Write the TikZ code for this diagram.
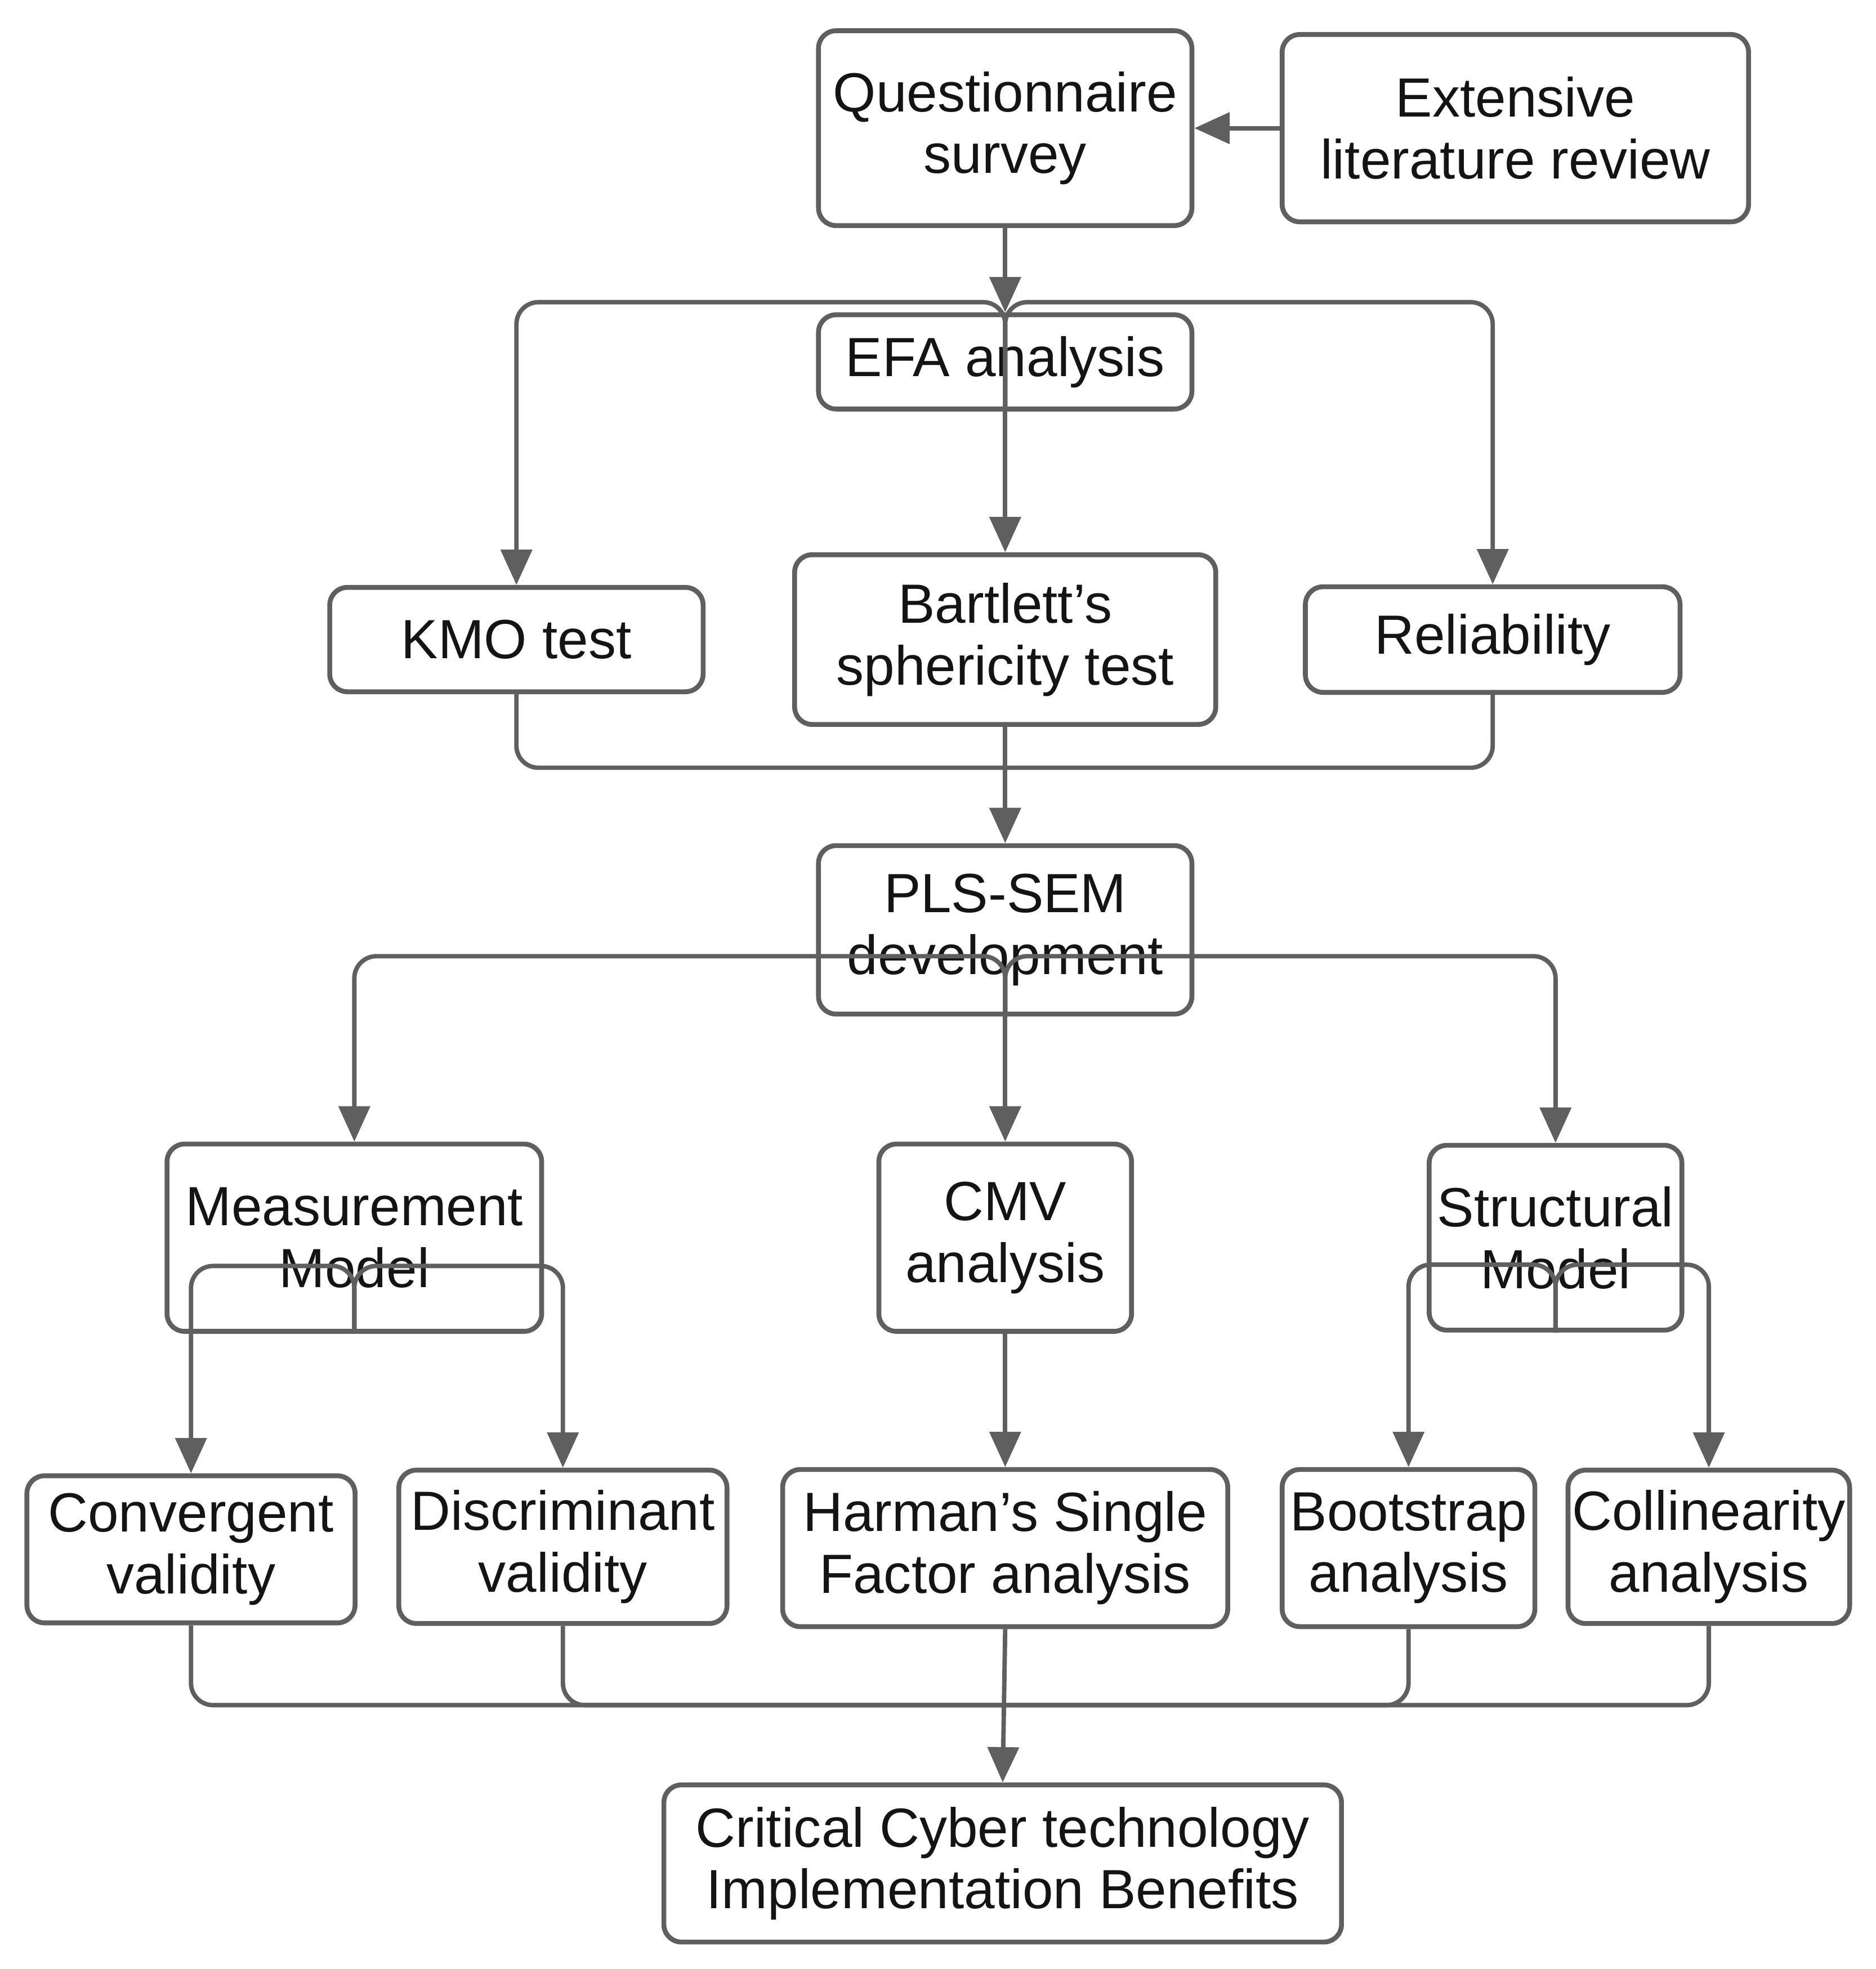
\documentclass[tikz,border=0pt]{standalone}
\usepackage{fontspec}
\setmainfont{Liberation Sans}
\usetikzlibrary{arrows.meta}
\definecolor{edge}{RGB}{95,95,95}
\definecolor{ink}{RGB}{20,20,20}
\tikzset{
  box/.style={draw=edge,line width=1.1pt,rounded corners=4pt,align=center,text=ink,
    font=\fontsize{12.5}{14}\selectfont,inner sep=0pt},
  link/.style={draw=edge,line width=1pt,rounded corners=5pt},
  arr/.style={link,-{Triangle[length=8pt,width=7pt]}}
}
\begin{document}
\begin{tikzpicture}[x=0.01cm,y=-0.01cm]
  \useasboundingbox (0,0) rectangle (1493,1567);
  % top row
  \node[box,minimum width=2.97cm,minimum height=1.55cm] (quest) at (800,102) {Questionnaire\\survey};
  \node[box,minimum width=3.71cm,minimum height=1.49cm] (lit) at (1206,102) {Extensive\\literature review};
  \node[box,minimum width=2.97cm,minimum height=0.75cm] (efa) at (800,288) {EFA analysis};
  % tests
  \node[box,minimum width=2.97cm,minimum height=0.83cm] (kmo) at (411,509) {KMO test};
  \node[box,minimum width=3.35cm,minimum height=1.35cm] (bart) at (800,509) {Bartlett's\\sphericity test};
  \node[box,minimum width=2.98cm,minimum height=0.84cm] (rel) at (1188,509) {Reliability};
  \node[box,minimum width=2.97cm,minimum height=1.34cm] (pls) at (800,740) {PLS-SEM\\development};
  % models
  \node[box,minimum width=2.98cm,minimum height=1.49cm] (meas) at (282,985) {Measurement\\Model};
  \node[box,minimum width=2.01cm,minimum height=1.49cm] (cmv) at (800,985) {CMV\\analysis};
  \node[box,minimum width=2.01cm,minimum height=1.47cm] (struct) at (1238,985) {Structural\\Model};
  % analyses
  \node[box,minimum width=2.61cm,minimum height=1.17cm] (conv) at (152,1233) {Convergent\\validity};
  \node[box,minimum width=2.61cm,minimum height=1.22cm] (disc) at (448,1231) {Discriminant\\validity};
  \node[box,minimum width=3.54cm,minimum height=1.25cm] (harman) at (800,1232) {Harman's Single\\Factor analysis};
  \node[box,minimum width=2.01cm,minimum height=1.25cm] (boot) at (1121,1232) {Bootstrap\\analysis};
  \node[box,minimum width=2.24cm,minimum height=1.22cm] (coll) at (1360,1231) {Collinearity\\analysis};
  \node[box,minimum width=5.39cm,minimum height=1.25cm] (crit) at (798,1483) {Critical Cyber technology\\Implementation Benefits};
  % junctions
  \coordinate (j1) at (800,611);
  \coordinate (j2) at (800,1357);
  % connectors
  \draw[arr] (lit.west) -- (quest.east);
  \draw[arr] (quest.south) -- (efa.north);
  \draw[arr] (efa.south) -- ++(0,-87) -| (kmo.north);
  \draw[arr] (efa.south) -- (bart.north);
  \draw[arr] (efa.south) -- ++(0,-87) -| (rel.north);
  \draw[link] (kmo.south) |- (j1);
  \draw[link] (rel.south) |- (j1);
  \draw[arr] (bart.south) -- (pls.north);
  \draw[arr] (pls.south) -- ++(0,-48) -| (meas.north);
  \draw[arr] (pls.south) -- (cmv.north);
  \draw[arr] (pls.south) -- ++(0,-48) -| (struct.north);
  \draw[arr] (meas.south) -- ++(0,-54) -| (conv.north);
  \draw[arr] (meas.south) -- ++(0,-54) -| (disc.north);
  \draw[arr] (cmv.south) -- (harman.north);
  \draw[arr] (struct.south) -- ++(0,-54) -| (boot.north);
  \draw[arr] (struct.south) -- ++(0,-54) -| (coll.north);
  \foreach \n in {conv,disc,boot,coll}
    \draw[link] (\n.south) |- (j2);
  \draw[arr] (harman.south) -- (crit.north);
\end{tikzpicture}
\end{document}
